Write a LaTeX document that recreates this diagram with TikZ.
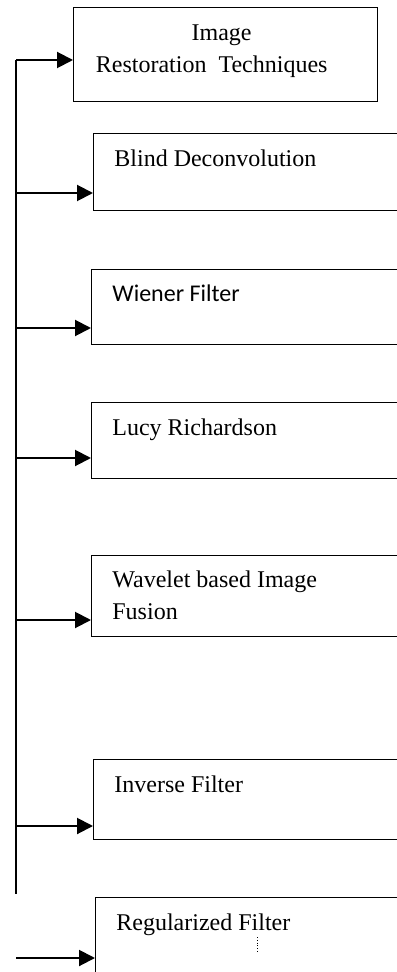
\documentclass[tikz,border=0pt]{standalone}
\usepackage{fontspec}
\setmainfont{Liberation Serif}
\newfontfamily\carlito{Carlito}
\usetikzlibrary{arrows.meta}

\begin{document}
\begin{tikzpicture}[x=0.5pt,y=-0.5pt,
  caixa/.style={draw,line width=0.65pt,anchor=north west,minimum width=172pt,inner sep=0pt},
  texto/.style={anchor=base west,inner sep=0pt,font=\fontsize{12}{16}\selectfont,align=left},
  seta/.style={line width=1pt,-{Triangle[length=8pt,width=8pt]}},
  tronco/.style={line width=1pt}]

\useasboundingbox (0,0) rectangle (396,972);

% Caixa do titulo
\node[caixa,minimum width=152pt,minimum height=47pt,align=center,text depth=6pt,
  font=\fontsize{12}{16}\selectfont] (titulo) at (73,7)
  {Image\hspace*{4pt}\\Restoration~~Techniques\hspace*{14pt}};

% Caixas das tecnicas (cortadas na borda direita)
\node[caixa,minimum height=38.5pt] (blind) at (93,133) {};
\node[caixa,minimum height=37.5pt] (wiener) at (91,269) {};
\node[caixa,minimum height=38pt] (lucy) at (91,402) {};
\node[caixa,minimum height=40.5pt] (wavelet) at (91,555) {};
\node[caixa,minimum height=40pt] (inverse) at (93,759) {};
\node[caixa,minimum height=60pt] (regular) at (95,897) {};

% Textos das caixas
\node[texto] (tblind) at ([xshift=10.5pt,yshift=-17pt]blind.north west) {Blind Deconvolution};
\node[texto,font=\carlito\fontsize{12}{16}\selectfont] (twiener) at ([xshift=10.5pt,yshift=-16.5pt]wiener.north west) {Wiener Filter};
\node[texto] (tlucy) at ([xshift=10.5pt,yshift=-16.5pt]lucy.north west) {Lucy Richardson};
\node[texto] (twavelet) at ([xshift=10.5pt,yshift=-32pt]wavelet.north west) {Wavelet based Image\\Fusion};
\node[texto] (tinverse) at ([xshift=10.5pt,yshift=-16.5pt]inverse.north west) {Inverse Filter};
\node[texto] (tregular) at ([xshift=10.5pt,yshift=-16.5pt]regular.north west) {Regularized Filter};

% Pontos do tronco vertical
\coordinate (p0) at (16,60);
\coordinate (p1) at (16,193);
\coordinate (p2) at (16,328);
\coordinate (p3) at (16,458);
\coordinate (p4) at (16,620);
\coordinate (p5) at (16,826);
\coordinate (pfim) at (16,894);
\coordinate (p6) at (16,958);

% Tronco
\draw[tronco] (p0) -- (pfim);

% Setas para as caixas
\draw[seta] (p0) -- (p0 -| titulo.west);
\draw[seta] (p1) -- (p1 -| blind.west);
\draw[seta] (p2) -- (p2 -| wiener.west);
\draw[seta] (p3) -- (p3 -| lucy.west);
\draw[seta] (p4) -- (p4 -| wavelet.west);
\draw[seta] (p5) -- (p5 -| inverse.west);
\draw[seta] (p6) -- (p6 -| regular.west);

% Marca pontilhada
\draw[densely dotted,line width=0.4pt] (257,937) -- (257,953);

\end{tikzpicture}
\end{document}
